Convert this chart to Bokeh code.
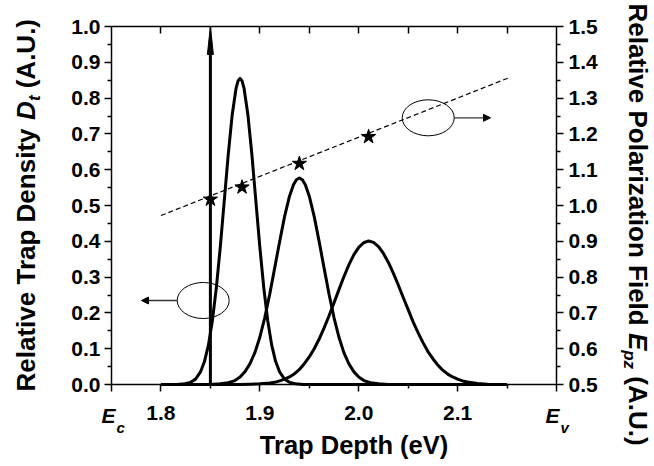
from math import pi
from bokeh.plotting import figure
from bokeh.models import (Range1d, LinearAxis, FixedTicker, Arrow, NormalHead,
                          CustomJSTickFormatter)
from bokeh.core.properties import value
from bokeh.embed import file_html
from bokeh.resources import INLINE

# ---------------- data ----------------
peak1_x = [1.800, 1.816, 1.824, 1.830, 1.835, 1.840, 1.844, 1.848, 1.852, 1.856, 1.860, 1.864,
           1.868, 1.872, 1.876, 1.878, 1.880, 1.882, 1.884, 1.888, 1.892, 1.896, 1.900, 1.904,
           1.908, 1.912, 1.916, 1.920, 1.925, 1.930, 1.936, 1.944, 2.150]
peak1_y = [0.000, 0.000, 0.002, 0.006, 0.015, 0.035, 0.064, 0.110, 0.178, 0.270, 0.384, 0.512,
           0.641, 0.752, 0.828, 0.848, 0.855, 0.848, 0.828, 0.752, 0.641, 0.512, 0.384, 0.270,
           0.178, 0.110, 0.064, 0.035, 0.015, 0.006, 0.002, 0.000, 0.000]

peak2_x = [1.800, 1.850, 1.860, 1.868, 1.874, 1.880, 1.885, 1.890, 1.895, 1.900, 1.905, 1.910,
           1.915, 1.920, 1.925, 1.930, 1.934, 1.937, 1.940, 1.943, 1.946, 1.950, 1.955, 1.960,
           1.965, 1.970, 1.975, 1.980, 1.985, 1.990, 1.995, 2.000, 2.006, 2.012, 2.020, 2.030,
           2.150]
peak2_y = [0.000, 0.000, 0.002, 0.005, 0.010, 0.021, 0.036, 0.058, 0.089, 0.132, 0.187, 0.252,
           0.325, 0.399, 0.469, 0.526, 0.558, 0.572, 0.577, 0.572, 0.558, 0.526, 0.469, 0.399,
           0.325, 0.252, 0.187, 0.132, 0.089, 0.058, 0.036, 0.021, 0.010, 0.005, 0.002, 0.000,
           0.000]

peak3_x = [1.800, 1.880, 1.890, 1.900, 1.910, 1.915, 1.920, 1.925, 1.930, 1.935, 1.940, 1.945,
           1.950, 1.955, 1.960, 1.965, 1.970, 1.975, 1.980, 1.985, 1.990, 1.995, 2.000, 2.005,
           2.010, 2.015, 2.020, 2.025, 2.030, 2.035, 2.040, 2.045, 2.050, 2.055, 2.060, 2.065,
           2.070, 2.075, 2.080, 2.085, 2.090, 2.095, 2.100, 2.105, 2.110, 2.120, 2.130, 2.140,
           2.150]
peak3_y = [0.000, 0.000, 0.001, 0.002, 0.004, 0.006, 0.010, 0.015, 0.021, 0.030, 0.042, 0.058,
           0.077, 0.100, 0.127, 0.158, 0.192, 0.228, 0.265, 0.301, 0.334, 0.362, 0.383, 0.396,
           0.401, 0.397, 0.385, 0.366, 0.341, 0.311, 0.278, 0.243, 0.209, 0.175, 0.145, 0.117,
           0.092, 0.072, 0.054, 0.040, 0.029, 0.021, 0.015, 0.010, 0.007, 0.003, 0.001, 0.000,
           0.000]

delta_x = 1.85          # delta-like trap level
delta_height = 1.0

star_x = [1.850, 1.882, 1.940, 2.010]
star_field = [1.017, 1.051, 1.117, 1.192]

fit_x = [1.800, 2.152]
fit_field = [0.972, 1.357]

x_major_ticks = [1.75, 1.8, 1.9, 2.0, 2.1, 2.2]
x_minor_ticks = [1.85, 1.95, 2.05, 2.15]
x_top_ticks = [1.8, 1.85, 1.9, 1.95, 2.0, 2.05, 2.1, 2.15]
left_ticks = [0.0, 0.1, 0.2, 0.3, 0.4, 0.5, 0.6, 0.7, 0.8, 0.9, 1.0]
left_minor = [0.05, 0.15, 0.25, 0.35, 0.45, 0.55, 0.65, 0.75, 0.85, 0.95]
right_ticks = [0.5, 0.6, 0.7, 0.8, 0.9, 1.0, 1.1, 1.2, 1.3, 1.4, 1.5]
right_minor = [0.55, 0.65, 0.75, 0.85, 0.95, 1.05, 1.15, 1.25, 1.35, 1.45]

# ---------------- layout helpers (pixel -> data) ----------------
W, H = 654, 466
FL, FR, FT, FB = 111, 556, 26, 384      # plot box in pixels
X0, X1, Y0, Y1 = 1.75, 2.2, 0.0, 1.0    # plot box in data
F0, F1 = 0.5, 1.5                       # right axis (polarization field)


def dx(px):
    return X0 + (px - FL) * (X1 - X0) / (FR - FL)


def dy(py):
    return Y0 + (FB - py) * (Y1 - Y0) / (FB - FT)


def df(py):
    return F0 + (FB - py) * (F1 - F0) / (FB - FT)


FONT = "Liberation Sans"

# the frame fills the whole canvas; the axes sit at fixed locations on the box
p = figure(width=W, height=H, x_range=Range1d(dx(0), dx(W)), y_range=Range1d(dy(H), dy(0)),
           output_backend="svg", toolbar_location=None,
           x_axis_type=None, y_axis_type=None, min_border=0)
p.extra_y_ranges = {"field": Range1d(df(H), df(0))}
p.outline_line_color = None
p.background_fill_color = "white"
p.border_fill_color = "white"


def style_axis(ax, tick_in=0, tick_out=7):
    ax.axis_line_width = 1.5
    ax.axis_line_color = "black"
    ax.major_tick_line_width = 1.5
    ax.minor_tick_line_width = 1.5
    ax.major_tick_line_color = "black"
    ax.minor_tick_line_color = "black"
    ax.major_tick_in = tick_in
    ax.major_tick_out = tick_out
    ax.minor_tick_in = 0
    ax.minor_tick_out = 4 if tick_out else 0
    ax.major_label_text_font = FONT
    ax.major_label_text_font_size = "21px"
    ax.major_label_text_font_style = "bold"
    ax.major_label_text_color = "black"


fmt1 = CustomJSTickFormatter(code="return tick.toFixed(1);")
fmt_x = CustomJSTickFormatter(code="if (tick < 1.76 || tick > 2.19) { return ''; } return tick.toFixed(1);")
fmt_none = CustomJSTickFormatter(code="return '';")

xb = LinearAxis(ticker=FixedTicker(ticks=x_major_ticks, minor_ticks=x_minor_ticks), formatter=fmt_x,
                fixed_location=Y0, bounds=(X0, X1))
style_axis(xb)
xb.major_label_standoff = 14
p.add_layout(xb, "below")

xt = LinearAxis(ticker=FixedTicker(ticks=x_top_ticks, minor_ticks=[]), formatter=fmt_none,
                fixed_location=Y1, bounds=(X0, X1))
style_axis(xt, tick_in=7, tick_out=0)
p.add_layout(xt, "above")

yl = LinearAxis(ticker=FixedTicker(ticks=left_ticks, minor_ticks=left_minor), formatter=fmt1,
                fixed_location=X0, bounds=(Y0, Y1))
style_axis(yl)
yl.major_label_standoff = 4
p.add_layout(yl, "left")

yr = LinearAxis(y_range_name="field", ticker=FixedTicker(ticks=right_ticks, minor_ticks=right_minor),
                formatter=fmt1, fixed_location=X1, bounds=(F0, F1))
style_axis(yr)
yr.major_label_standoff = 5
p.add_layout(yr, "right")

# ---------------- glyphs ----------------
for xs, ys in ((peak1_x, peak1_y), (peak2_x, peak2_y), (peak3_x, peak3_y)):
    p.line(xs, ys, line_color="black", line_width=3, line_join="round")

head_len = dy(FT) - dy(FT + 28)
head_half = dx(FL + 3) - dx(FL)
p.segment(x0=[delta_x], y0=[0], x1=[delta_x], y1=[delta_height - head_len * 0.5],
          line_color="black", line_width=3)
p.patch([delta_x - head_half, delta_x, delta_x + head_half],
        [delta_height - head_len, delta_height, delta_height - head_len],
        fill_color="black", line_color="black", line_width=1)

p.line(fit_x, fit_field, y_range_name="field", line_color="black", line_width=1.2, line_dash="5 3")
p.scatter(star_x, star_field, y_range_name="field", marker="star", size=15,
          fill_color="black", line_color="black")

# ellipse markers with arrows pointing to their axes
ell_w = dx(FL + 52) - dx(FL)
ell_h = dy(FB - 36) - dy(FB)
p.ellipse(x=[dx(427.7), dx(202.7)], y=[dy(117.3), dy(300)], width=ell_w, height=ell_h,
          fill_color=None, line_color="black", line_width=1)
p.add_layout(Arrow(x_start=dx(453.7), y_start=dy(117.3), x_end=dx(490), y_end=dy(117.3),
                   line_color="#333333", line_width=1.3,
                   end=NormalHead(size=7, fill_color="black", line_color="black", line_width=1)))
p.add_layout(Arrow(x_start=dx(176.7), y_start=dy(300), x_end=dx(141), y_end=dy(300),
                   line_color="#333333", line_width=1.3,
                   end=NormalHead(size=7, fill_color="black", line_color="black", line_width=1)))

SHIFT = 0.3   # baseline correction (fraction of font size) toward the glyph tops


def lab(text, px, py, size, style="bold", angle=0.0, align="left"):
    if angle == 0.0:
        py -= SHIFT * size
    elif angle > 0:
        px -= SHIFT * size
    else:
        px += SHIFT * size
    p.text(x=[dx(px)], y=[dy(py)], text=[text], angle=angle, text_align=align,
           text_baseline="alphabetic", text_font=value(FONT), text_font_size=value(f"{size}px"),
           text_font_style=style, text_color="black")


# x-axis end labels E_c and E_v
lab("E", 101, 421, 21, "bold italic")
lab("c", 116, 431, 15, "bold italic")
lab("E", 545, 421, 21, "bold italic")
lab("v", 560, 431, 15, "bold italic")

# x-axis title
lab("Trap Depth (eV)", 353.5, 452, 25.5, align="center")

# left axis title (reads bottom -> top)
lab("Relative Trap Density", 33, 391, 26, angle=pi / 2)
lab("D", 33, 119.4, 26, "bold italic", angle=pi / 2)
lab("t", 39, 100.6, 17, "bold italic", angle=pi / 2)
lab("(A.U.)", 33, 87.8, 26, angle=pi / 2)

# right axis title (reads top -> bottom)
lab("Relative Polarization Field", 630, 3, 26, angle=-pi / 2)
lab("E", 630, 332.4, 26, "bold italic", angle=-pi / 2)
lab("pz", 624, 349.7, 17, "bold italic", angle=-pi / 2)
lab("(A.U.)", 630, 375.8, 26, angle=-pi / 2)

open("out.html", "w").write(file_html(p, INLINE))
